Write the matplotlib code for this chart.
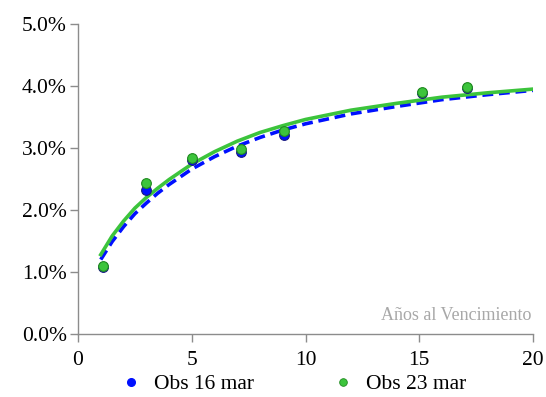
"""Yield curve: observed points and fitted curves, 16 mar vs 23 mar."""

import matplotlib

matplotlib.use("Agg")
import matplotlib.pyplot as plt
from matplotlib.lines import Line2D
from matplotlib.ticker import FuncFormatter

plt.rcParams["font.family"] = ["Liberation Serif", "DejaVu Serif"]

# observed yields (%) by years to maturity
OBS_X = [1.1, 3.0, 5.0, 7.15, 9.05, 15.1, 17.1]
OBS_16 = [1.08, 2.32, 2.81, 2.94, 3.21, 3.89, 3.96]
OBS_23 = [1.09, 2.44, 2.84, 2.99, 3.27, 3.90, 3.98]

# fitted curves (%)
CURVE_X = [1.0, 1.5, 2, 2.5, 3, 3.5, 4, 5, 6, 7, 8, 9, 10,
           12, 14, 16, 18, 20]
CURVE_16 = [1.20, 1.49, 1.73, 1.94, 2.11, 2.27, 2.41, 2.66, 2.86, 3.03, 3.17,
            3.29, 3.39, 3.55, 3.67, 3.78, 3.86, 3.93]
CURVE_23 = [1.28, 1.58, 1.82, 2.03, 2.20, 2.35, 2.49, 2.74, 2.94, 3.11, 3.25,
            3.36, 3.46, 3.61, 3.72, 3.82, 3.89, 3.95]

BLUE = "#0010ff"
GREEN = "#3cc43c"
AXIS_GREY = "#8c8c8c"


def main() -> None:
    fig = plt.figure(figsize=(5.46, 3.97), dpi=100)
    ax = fig.add_axes([78 / 546, 1 - 334 / 397, 455 / 546, 310 / 397])

    ax.plot(CURVE_X, CURVE_16, color=BLUE, lw=2.6, ls=(0, (3, 1.6)), zorder=3,
            solid_joinstyle="round")
    ax.plot(CURVE_X, CURVE_23, color=GREEN, lw=2.6, zorder=4,
            solid_joinstyle="round")
    ax.plot(OBS_X, OBS_16, "o", color=BLUE, mec="#1a1a80", mew=0.8, ms=7, zorder=5)
    ax.plot(OBS_X, OBS_23, "o", color=GREEN, mec="#1f8a1f", mew=0.8, ms=7, zorder=6)

    ax.set_xlim(0, 20)
    ax.set_ylim(0, 5)
    ax.set_xticks([0, 5, 10, 15, 20])
    ax.set_yticks([0, 1, 2, 3, 4, 5])
    ax.yaxis.set_major_formatter(FuncFormatter(lambda v, _: f"{v:.1f}%"))
    for side in ("top", "right"):
        ax.spines[side].set_visible(False)
    for side in ("left", "bottom"):
        ax.spines[side].set_color(AXIS_GREY)
        ax.spines[side].set_linewidth(1.0)
    ax.tick_params(axis="both", colors=AXIS_GREY, length=6, width=1.0,
                   labelcolor="black", labelsize=15.5, direction="out")
    ax.tick_params(axis="x", pad=6)
    ax.tick_params(axis="y", pad=2)

    ax.text(19.95, 0.3, "Años al Vencimiento", color="#a8a8a8", fontsize=13,
            ha="right", va="center")

    handles = [
        Line2D([], [], ls="", marker="o", color=BLUE, ms=5.5),
        Line2D([], [], ls="", marker="o", color=GREEN, mec="#1f8a1f", mew=0.6, ms=5.5),
    ]
    fig.legend(handles, ["Obs 16 mar", "Obs 23 mar"], ncol=2, frameon=False,
               loc="center", bbox_to_anchor=(0.537, 1 - 384 / 397),
               fontsize=15.5, handletextpad=0.6, columnspacing=3.6,
               handlelength=1.0, borderpad=0)

    fig.savefig("out.png", dpi=100)


if __name__ == "__main__":
    main()
